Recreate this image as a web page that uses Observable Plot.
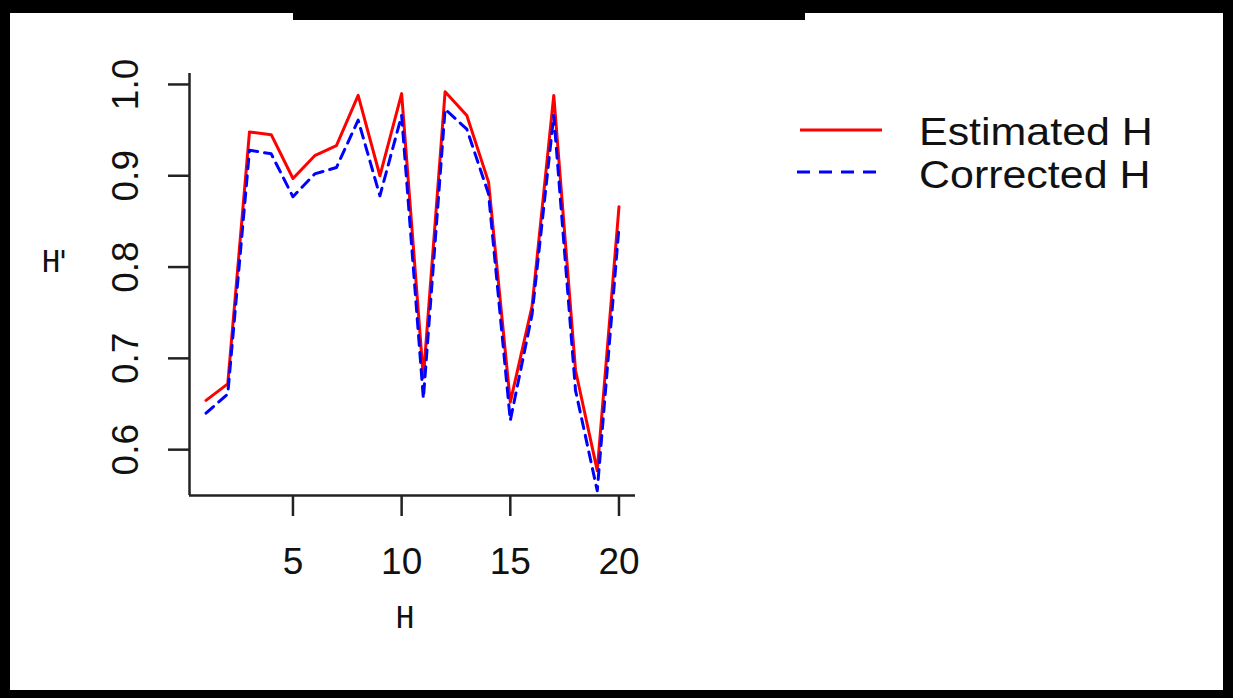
<!DOCTYPE html>
<html>
<head>
<meta charset="utf-8">
<script src="https://cdn.jsdelivr.net/npm/d3@7"></script>
<script src="https://cdn.jsdelivr.net/npm/@observablehq/plot@0.6"></script>
<style>
  html, body { margin: 0; padding: 0; background: #fff; }
  #wrap { position: relative; width: 1233px; height: 698px; overflow: hidden; background: #fff; font-family: "Liberation Sans", Arial, sans-serif; }
  .bar { position: absolute; background: #000; }
  .lbl { position: absolute; color: #111; white-space: nowrap; }
  .mono { font-family: "DejaVu Sans Mono", monospace; font-size: 30px; }
  .leg { font-size: 38px; line-height: 1; transform: scaleX(1.13); transform-origin: left center; }
  #chart { position: absolute; left: 0; top: 0; }
</style>
</head>
<body>
<div id="wrap">
  <div id="chart"></div>
  <div class="bar" style="left:0;top:0;width:1233px;height:13px"></div>
  <div class="bar" style="left:293px;top:0;width:512px;height:20px"></div>
  <div class="bar" style="left:0;top:0;width:10px;height:698px"></div>
  <div class="bar" style="left:1223px;top:0;width:10px;height:698px"></div>
  <div class="bar" style="left:0;top:690px;width:1233px;height:8px"></div>
  <div class="lbl mono" style="left:42px;top:244px;letter-spacing:-6px">H'</div>
  <div class="lbl mono" style="left:396px;top:600px">H</div>
  <svg style="position:absolute;left:790px;top:110px" width="100" height="80">
    <line x1="10" y1="20" x2="92" y2="20" stroke="red" stroke-width="3"/>
    <line x1="7" y1="62" x2="92" y2="62" stroke="blue" stroke-width="3" stroke-dasharray="13 9"/>
  </svg>
  <div class="lbl leg" style="left:919px;top:113px">Estimated H</div>
  <div class="lbl leg" style="left:919px;top:156px">Corrected H</div>
</div>
<script>
const H = [1,2,3,4,5,6,7,8,9,10,11,12,13,14,15,16,17,18,19,20];
const estimated = [0.654,0.672,0.948,0.945,0.897,0.922,0.933,0.988,0.900,0.990,0.679,0.992,0.966,0.893,0.652,0.757,0.988,0.687,0.577,0.866];
const corrected = [0.640,0.661,0.928,0.924,0.877,0.902,0.909,0.961,0.878,0.966,0.656,0.973,0.951,0.880,0.632,0.748,0.966,0.665,0.555,0.844];
const xTicks = [5,10,15,20];
const yTicks = [0.6,0.7,0.8,0.9,1.0];
const xDomain = [0.24, 20.76];
const yDomain = [0.5498, 1.012];

const est = H.map((h,i) => ({h, v: estimated[i]}));
const cor = H.map((h,i) => ({h, v: corrected[i]}));
const axisColor = "#222";

const chart = Plot.plot({
  width: 1233,
  height: 698,
  marginLeft: 189,
  marginRight: 598,
  marginTop: 73,
  marginBottom: 203,
  style: { background: "transparent", fontFamily: "'Liberation Sans', Arial, sans-serif", overflow: "visible" },
  x: { domain: xDomain },
  y: { domain: yDomain },
  marks: [
    Plot.ruleX([xDomain[0]], { stroke: axisColor, strokeWidth: 2.5 }),
    Plot.ruleY([yDomain[0]], { stroke: axisColor, strokeWidth: 2.5 }),
    Plot.axisX({ ticks: xTicks, tickSize: 21, tickPadding: 31, fontSize: 37, label: null, stroke: axisColor, strokeWidth: 2.5, color: "#111" }),
    Plot.axisY({ ticks: yTicks, tickSize: 21, tickFormat: () => "", label: null, stroke: axisColor, strokeWidth: 2.5 }),
    Plot.text(yTicks, { y: d => d, frameAnchor: "left", dx: -52, rotate: -90, textAnchor: "middle", lineAnchor: "bottom", text: d => d.toFixed(1), fontSize: 37, fill: "#111" }),
    Plot.line(est, { x: "h", y: "v", stroke: "red", strokeWidth: 3 }),
    Plot.line(cor, { x: "h", y: "v", stroke: "blue", strokeWidth: 3, strokeDasharray: "10 7" })
  ]
});
document.getElementById("chart").appendChild(chart);
</script>
</body>
</html>
